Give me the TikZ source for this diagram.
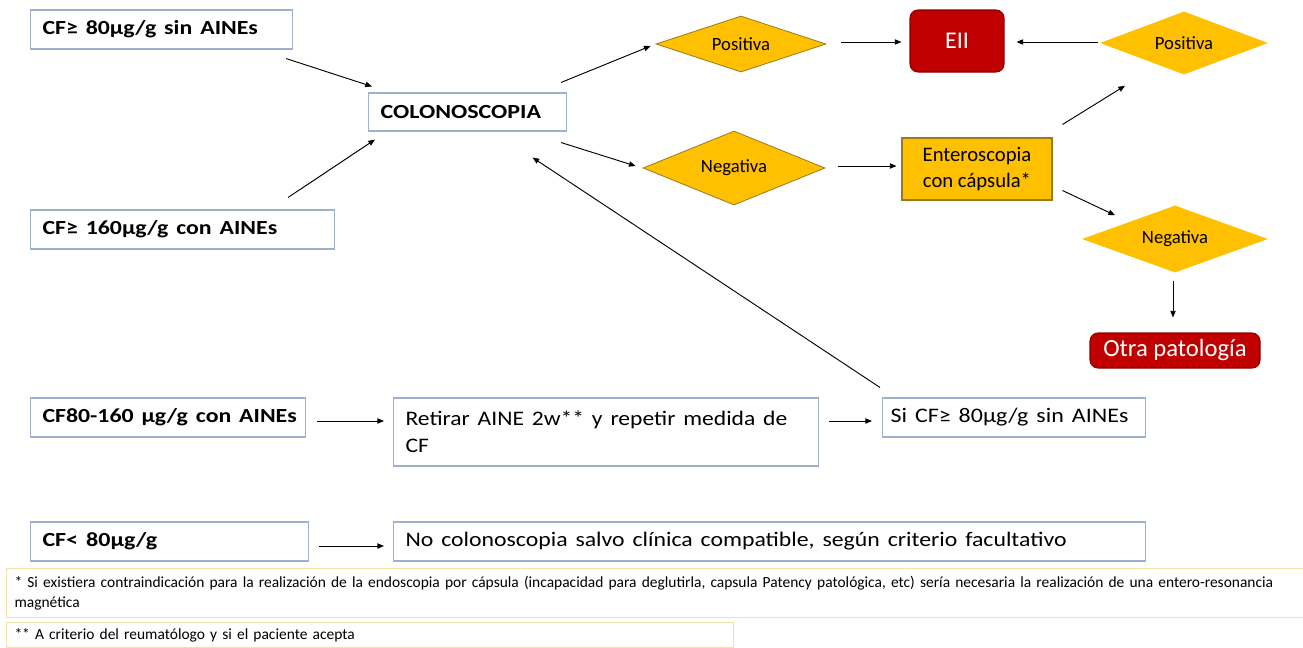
\documentclass[tikz,border=0pt]{standalone}
\usepackage{graphicx}
\usepackage{fontspec}
\setmainfont{Carlito}
\usetikzlibrary{arrows.meta,shapes.geometric}
\definecolor{boxline}{HTML}{9DB1CC}
\definecolor{yel}{HTML}{FFC000}
\definecolor{yelline}{HTML}{9C7A1A}
\definecolor{redf}{HTML}{C00000}
\definecolor{redline}{HTML}{8C0000}
\definecolor{noteline}{HTML}{F2E2A8}
\newcommand\px[1]{#1*0.75pt}
\newcommand\hs[2]{\scalebox{#1}[1]{#2}}
\tikzset{
  x=0.75pt, y=-0.75pt,
  wbox/.style args={#1/#2}{draw=boxline, line width=0.8pt, fill=white, anchor=west,
     minimum width=\px{#1}, minimum height=\px{#2}, inner xsep=\px{12}, inner ysep=0pt,
     text width=\px{#1}-\px{24}, align=left, font=\fontsize{15.5}{20}\selectfont},
  bold/.style={font=\fontsize{15}{18}\selectfont\bfseries},
  dia/.style args={#1/#2/#3}{diamond, fill=yel, aspect=#3, minimum width=\px{#1}, minimum height=\px{#2},
     inner sep=0pt, font=\fontsize{14}{16}\selectfont},
  redbox/.style args={#1/#2}{rounded corners=\px{8}, fill=redf, draw=redline, line width=0.8pt,
     minimum width=\px{#1}, minimum height=\px{#2}, text=white, inner sep=0pt},
  note/.style args={#1/#2}{draw=noteline, line width=0.8pt, anchor=north west,
     minimum width=\px{#1}, minimum height=\px{#2}, inner xsep=\px{8}, inner ysep=\px{3},
     text width=\px{#1}-\px{16}, align=left, font=\fontsize{11.6}{15}\selectfont},
  arr/.style={-{Triangle[length=5pt,width=4pt]}, line width=0.7pt, black},
}
\begin{document}
\begin{tikzpicture}
\useasboundingbox (0,0) rectangle (1303,647);
% boxes
\node[wbox=262/39, bold] (b1) at (30,29.5) {\hs{1.19}{CF≥ 80µg/g sin AINEs}};
\node[wbox=198/38, bold] (colono) at (368,112) {\hs{1.2}{COLONOSCOPIA}};
\node[wbox=304/39, bold] (b2) at (30,229.5) {\hs{1.19}{CF≥ 160µg/g con AINEs}};
\node[wbox=275/39, bold] (b3) at (30,417.5) {\hs{1.19}{CF80-160 µg/g con AINEs}};
\node[wbox=425/68] (ret) at (393,432) {\hs{1.14}{Retirar AINE 2w** y repetir medida de}\\[0.5pt]\hs{1.14}{CF}};
\node[wbox=263/39, inner xsep=\px{8}, text width=\px{247}] (sicf) at (882,417.5) {\hs{1.16}{Si CF≥ 80µg/g sin AINEs}};
\node[wbox=278/39, bold] (b4) at (30,541.5) {\hs{1.2}{CF< 80µg/g}};
\node[wbox=752/39] (nocol) at (393,541.5) {\hs{1.15}{No colonoscopia salvo clínica compatible, según criterio facultativo}};
% diamonds
\node[dia=170/56/3, draw=yelline, line width=0.6pt] (pos1) at (741,44) {Positiva};
\node[dia=182/74/2.4, draw=yelline, line width=0.6pt] (neg1) at (734,168) {Negativa};
\node[dia=168/63/2.6] (pos2) at (1184,43) {Positiva};
\node[dia=186/67/2.7] (neg2) at (1175,239) {Negativa};
% red boxes
\node[redbox=94/62, font=\fontsize{18}{20}\selectfont] (eii) at (957,41) {EII};
\node[redbox=170/35, font=\fontsize{18.5}{20}\selectfont] (otra) at (1175,350.5) {Otra patología};
% enteroscopia
\node[draw=yelline, fill=yel, line width=0.8pt, minimum width=\px{150}, minimum height=\px{62},
      inner sep=0pt, align=center, font=\fontsize{15.5}{19}\selectfont] (ent) at (977,169) {Enteroscopia\\con cápsula*};
% footnotes
\node[note=1297/49] (n1) at (6,568) {* Si existiera contraindicación para la realización de la endoscopia por cápsula (incapacidad para deglutirla, capsula Patency patológica, etc) sería necesaria la realización de una entero-resonancia\\magnética};
\node[note=727/25] (n2) at (6,622) {** A criterio del reumatólogo y si el paciente acepta};
% arrows
\draw[arr] ([shift={(-7,9)}]b1.south east) -- ([shift={(4,-6)}]colono.north west);
\draw[arr] ([shift={(-47,-12)}]b2.north east) -- ([shift={(7,8)}]colono.south west);
\draw[arr] ([shift={(-6,-10)}]colono.north east) -- ([shift={(-5,2)}]pos1.west);
\draw[arr] ([shift={(-6,11)}]colono.south east) -- ([shift={(-7,-2)}]neg1.west);
\draw[arr] ([shift={(15,-2)}]pos1.east) -- ([shift={(-8,1)}]eii.west);
\draw[arr] ([shift={(-2,-1)}]pos2.west) -- ([shift={(12,1)}]eii.east);
\draw[arr] ([shift={(13,-2)}]neg1.east) -- ([shift={(-5,-3)}]ent.west);
\draw[arr] ([shift={(10,-13)}]ent.north east) -- ([shift={(-59,11)}]pos2.south);
\draw[arr] ([shift={(10,-10)}]ent.south east) -- ([shift={(-60,10)}]neg2.north);
\draw[arr] ([shift={(-2,8)}]neg2.south) -- ([shift={(-2,-15)}]otra.north);
\draw[arr] ([shift={(-2,-10)}]sicf.north west) -- ([shift={(65,26)}]colono.south);
\draw[arr] ([shift={(11,3.5)}]b3.east) -- ([shift={(-9,-11)}]ret.west);
\draw[arr] ([shift={(10,-11)}]ret.east) -- ([shift={(-10,3.5)}]sicf.west);
\draw[arr] ([shift={(10,4.5)}]b4.east) -- ([shift={(-9,4.5)}]nocol.west);
\end{tikzpicture}
\end{document}
